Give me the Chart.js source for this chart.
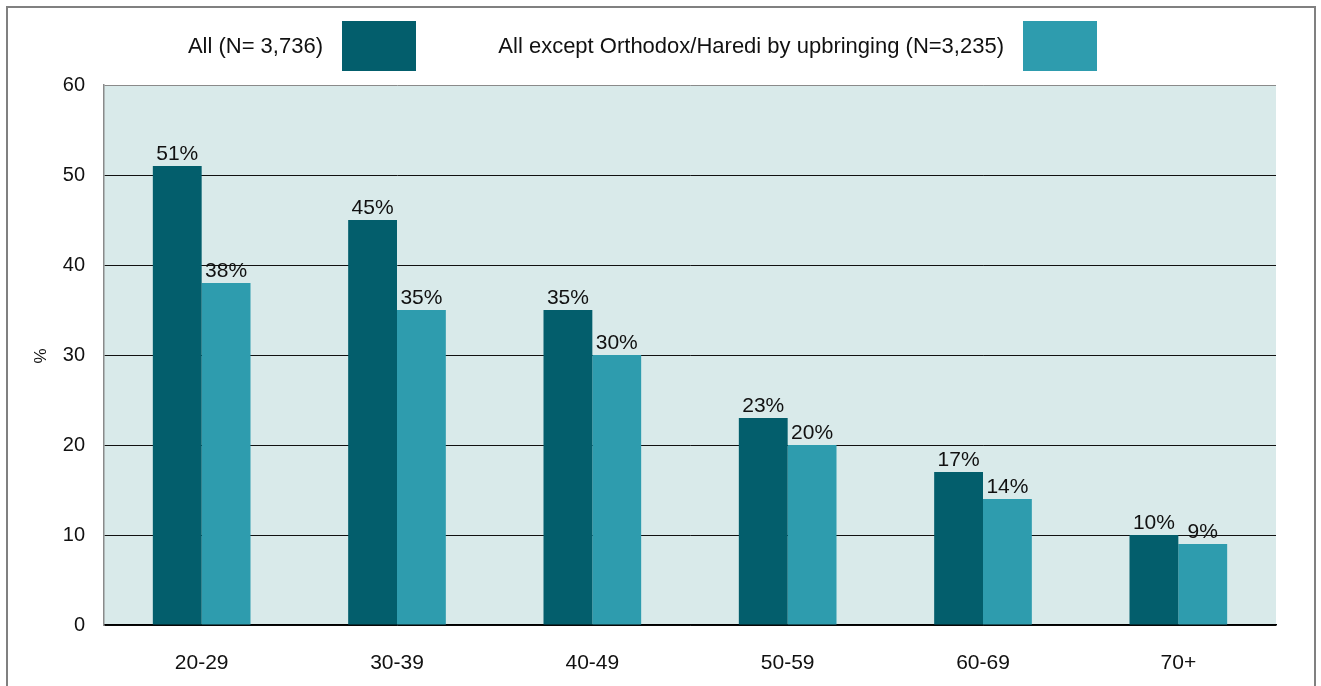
<!DOCTYPE html>
<html>
<head>
<meta charset="utf-8">
<script src="https://cdn.jsdelivr.net/npm/chart.js@4.4.1/dist/chart.umd.min.js"></script>
<style>
  html, body { margin: 0; padding: 0; background: #fff; }
  canvas { display: block; }
</style>
</head>
<body>
<canvas id="ageChart" width="1321" height="686"></canvas>
<script>
// data
const categories = ['20-29', '30-39', '40-49', '50-59', '60-69', '70+'];
const allValues = [51, 45, 35, 23, 17, 10];
const exceptValues = [38, 35, 30, 20, 14, 9];
const seriesNames = ['All (N= 3,736)', 'All except Orthodox/Haredi by upbringing (N=3,235)'];
const yTicks = [0, 10, 20, 30, 40, 50, 60];

const darkTeal = '#035e6c';
const lightTeal = '#2e9cae';
const plotBg = '#d9eaea';
const fontFam = "'Liberation Sans', Arial, sans-serif";

// plot background + outer frame + legend + value labels
const decorations = {
    id: 'decorations',
    beforeDraw(chart) {
        const c = chart.ctx, a = chart.chartArea;
        c.save();
        c.fillStyle = '#fff';
        c.fillRect(0, 0, chart.width, chart.height);
        c.fillStyle = plotBg;
        c.fillRect(a.left, a.top, a.right - a.left, a.bottom - a.top);
        c.restore();
    },
    afterDatasetsDraw(chart) {
        const c = chart.ctx;
        c.save();
        c.font = "21px " + fontFam;
        c.fillStyle = '#111';
        c.textAlign = 'center';
        c.textBaseline = 'alphabetic';
        chart.data.datasets.forEach((ds, i) => {
            chart.getDatasetMeta(i).data.forEach((bar, j) => {
                c.fillText(ds.data[j] + '%', bar.x, bar.y - 6);
            });
        });
        c.restore();
    },
    afterDraw(chart) {
        const c = chart.ctx;
        c.save();
        // frame
        c.strokeStyle = '#808080';
        c.lineWidth = 2;
        c.strokeRect(7, 7, 1308, 700);
        // legend
        const boxes = [{x: 342, color: darkTeal}, {x: 1023, color: lightTeal}];
        c.font = "22px " + fontFam;
        c.textAlign = 'right';
        c.textBaseline = 'middle';
        boxes.forEach((b, i) => {
            c.fillStyle = b.color;
            c.fillRect(b.x, 21, 74, 50);
            c.fillStyle = '#111';
            c.fillText(seriesNames[i], b.x - 19, 47);
        });
        // y axis title
        c.translate(41, 356);
        c.rotate(-Math.PI / 2);
        c.textAlign = 'center';
        c.font = "17px " + fontFam;
        c.fillText('%', 0, 0);
        c.restore();
    }
};

const ctx = document.getElementById('ageChart').getContext('2d');

const config = {
    type: 'bar',
    data: {
        labels: categories,
        datasets: [
            {label: seriesNames[0], data: allValues, backgroundColor: darkTeal},
            {label: seriesNames[1], data: exceptValues, backgroundColor: lightTeal}
        ]
    },
    options: {
        responsive: false,
        animation: false,
        devicePixelRatio: 1,
        layout: { padding: { top: 85, right: 45, left: 0, bottom: 0 } },
        datasets: { bar: { categoryPercentage: 0.5, barPercentage: 1 } },
        plugins: { legend: { display: false }, tooltip: { enabled: false } },
        scales: {
            x: {
                afterFit(scale) { scale.height = 61; },
                grid: { display: false, drawTicks: false },
                border: { color: '#000', width: 1.5 },
                ticks: { padding: 26, color: '#111', font: { family: fontFam, size: 21 } }
            },
            y: {
                min: 0,
                max: 60,
                afterFit(scale) { scale.width = 104; },
                afterBuildTicks(scale) { scale.ticks = yTicks.map(v => ({value: v})); },
                grid: {
                    drawTicks: false,
                    color: ctx => ctx.tick.value === 60 ? '#8a8a8a' : '#111',
                    lineWidth: 1
                },
                border: { color: '#8a8a8a', width: 1.5 },
                ticks: { padding: 19, color: '#111', font: { family: fontFam, size: 20 } }
            }
        }
    },
    plugins: [decorations]
};

const ageChart = new Chart(ctx, config);
</script>
</body>
</html>
